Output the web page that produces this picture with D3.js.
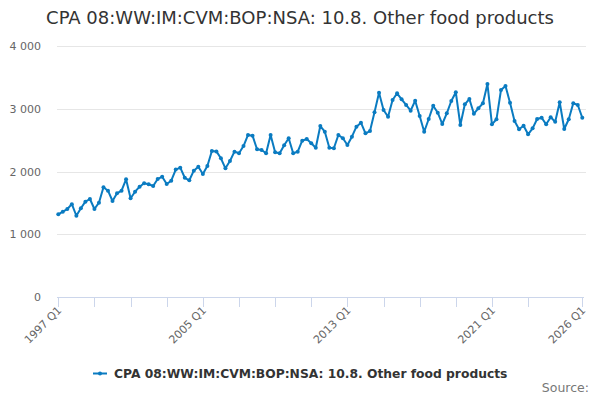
<!DOCTYPE html>
<html>
<head>
<meta charset="utf-8">
<script src="https://cdn.jsdelivr.net/npm/d3@7"></script>
<style>
  body { margin: 0; background: #fff; }
  text { font-family: "DejaVu Sans", sans-serif; }
</style>
</head>
<body>
<div id="chart_div"></div>
<script>
// quarterly categories 1997 Q1 .. 2026 Q1
var categories = [];
for (var yr = 1997; yr <= 2026; yr++) {
  for (var q = 1; q <= 4; q++) {
    if (yr == 2026 && q > 1) break;
    categories.push(yr + ' Q' + q);
  }
}

var values = [
  1318, 1359, 1402, 1480, 1295, 1414, 1519, 1562, 1402, 1503,
  1748, 1694, 1530, 1653, 1694, 1876, 1573, 1678, 1758, 1812,
  1796, 1769, 1880, 1917, 1801, 1853, 2030, 2061, 1900, 1860,
  2013, 2077, 1960, 2088, 2327, 2320, 2210, 2051, 2167, 2316,
  2290, 2406, 2582, 2571, 2354, 2343, 2290, 2582, 2306, 2290,
  2418, 2529, 2290, 2316, 2491, 2518, 2449, 2379, 2725, 2634,
  2379, 2370, 2582, 2529, 2422, 2555, 2714, 2778, 2609, 2645,
  2943, 3256, 2980, 2873, 3139, 3246, 3151, 3060, 2969, 3128,
  2884, 2634, 2837, 3049, 2937, 2757, 2927, 3124, 3262, 2741,
  3071, 3155, 2921, 3007, 3087, 3394, 2752, 2832, 3299, 3363,
  3096, 2805, 2673, 2730, 2593, 2688, 2837, 2857, 2752, 2864,
  2794, 3103, 2677, 2832, 3087, 3060, 2857
];

var y_ticks = [0, 1000, 2000, 3000, 4000];
var tick_labels = ['1997 Q1', '2005 Q1', '2013 Q1', '2021 Q1', '2026 Q1'];
var tick_marks = ['1997 Q1', '1999 Q1', '2001 Q1', '2003 Q1', '2005 Q1', '2007 Q1',
  '2009 Q1', '2011 Q1', '2013 Q1', '2015 Q1', '2017 Q1', '2019 Q1', '2021 Q1',
  '2023 Q1', '2026 Q1'];

var series_name = 'CPA 08:WW:IM:CVM:BOP:NSA: 10.8. Other food products';
var line_color = '#0a7bc1';

var chart_w = 600, chart_h = 400;
var plot_l = 57, plot_r = 586, plot_t = 46, plot_b = 297;

var x = d3.scalePoint()
  .domain(categories)
  .range([58.3, 582.3]);

var y = d3.scaleLinear()
  .domain([0, 4000])
  .range([plot_b, plot_t]);

var svg = d3.select('#chart_div')
  .append('svg')
  .attr('width', chart_w)
  .attr('height', chart_h)
  .attr('display', 'block');

// title
svg.append('text')
  .attr('x', chart_w / 2)
  .attr('y', 24)
  .attr('text-anchor', 'middle')
  .attr('font-size', 18)
  .attr('fill', '#333333')
  .text(series_name);

// horizontal grid
svg.append('g')
  .selectAll('line')
  .data(y_ticks.filter(function (d) { return d > 0; }))
  .enter()
  .append('line')
  .attr('x1', plot_l)
  .attr('x2', plot_r)
  .attr('y1', function (d) { return Math.round(y(d)) + 0.5; })
  .attr('y2', function (d) { return Math.round(y(d)) + 0.5; })
  .attr('stroke', '#e6e6e6')
  .attr('stroke-width', 1);

// y labels
svg.append('g')
  .selectAll('text')
  .data(y_ticks)
  .enter()
  .append('text')
  .attr('x', 41)
  .attr('y', function (d) { return y(d) + 4; })
  .attr('text-anchor', 'end')
  .attr('font-size', 11)
  .attr('fill', '#666666')
  .text(function (d) { return d3.format(',')(d).replace(/,/g, ' '); });

// x axis line + ticks
svg.append('line')
  .attr('x1', plot_l)
  .attr('x2', 584)
  .attr('y1', plot_b + 0.5)
  .attr('y2', plot_b + 0.5)
  .attr('stroke', '#ccd6eb')
  .attr('stroke-width', 1);

svg.append('g')
  .selectAll('line')
  .data(tick_marks)
  .enter()
  .append('line')
  .attr('x1', function (d) { return Math.round(x(d)) + 0.5; })
  .attr('x2', function (d) { return Math.round(x(d)) + 0.5; })
  .attr('y1', plot_b)
  .attr('y2', plot_b + 10)
  .attr('stroke', '#ccd6eb')
  .attr('stroke-width', 1);

svg.append('g')
  .selectAll('text')
  .data(tick_labels)
  .enter()
  .append('text')
  .attr('transform', function (d) {
    return 'translate(' + (x(d) + 4) + ',' + (plot_b + 14) + ') rotate(-45)';
  })
  .attr('text-anchor', 'end')
  .attr('font-size', 11)
  .attr('fill', '#666666')
  .text(function (d) { return d; });

// series line
var line = d3.line()
  .x(function (d, i) { return x(categories[i]); })
  .y(function (d) { return y(d); });

svg.append('path')
  .datum(values)
  .attr('d', line)
  .attr('fill', 'none')
  .attr('stroke', line_color)
  .attr('stroke-width', 2)
  .attr('stroke-linejoin', 'round');

svg.append('g')
  .selectAll('circle')
  .data(values)
  .enter()
  .append('circle')
  .attr('cx', function (d, i) { return x(categories[i]); })
  .attr('cy', function (d) { return y(d); })
  .attr('r', 2)
  .attr('fill', line_color);

// legend
var legend = svg.append('g');
legend.append('line')
  .attr('x1', 93)
  .attr('x2', 107)
  .attr('y1', 373.5)
  .attr('y2', 373.5)
  .attr('stroke', line_color)
  .attr('stroke-width', 2);
legend.append('circle')
  .attr('cx', 100)
  .attr('cy', 373.5)
  .attr('r', 2)
  .attr('fill', line_color);
legend.append('text')
  .attr('x', 114)
  .attr('y', 378)
  .attr('font-size', 12.3)
  .attr('font-weight', 'bold')
  .attr('fill', '#333333')
  .text(series_name);

// credits
svg.append('text')
  .attr('x', 589)
  .attr('y', 392)
  .attr('text-anchor', 'end')
  .attr('font-size', 12.5)
  .attr('fill', '#777777')
  .text('Source:');
</script>
</body>
</html>
